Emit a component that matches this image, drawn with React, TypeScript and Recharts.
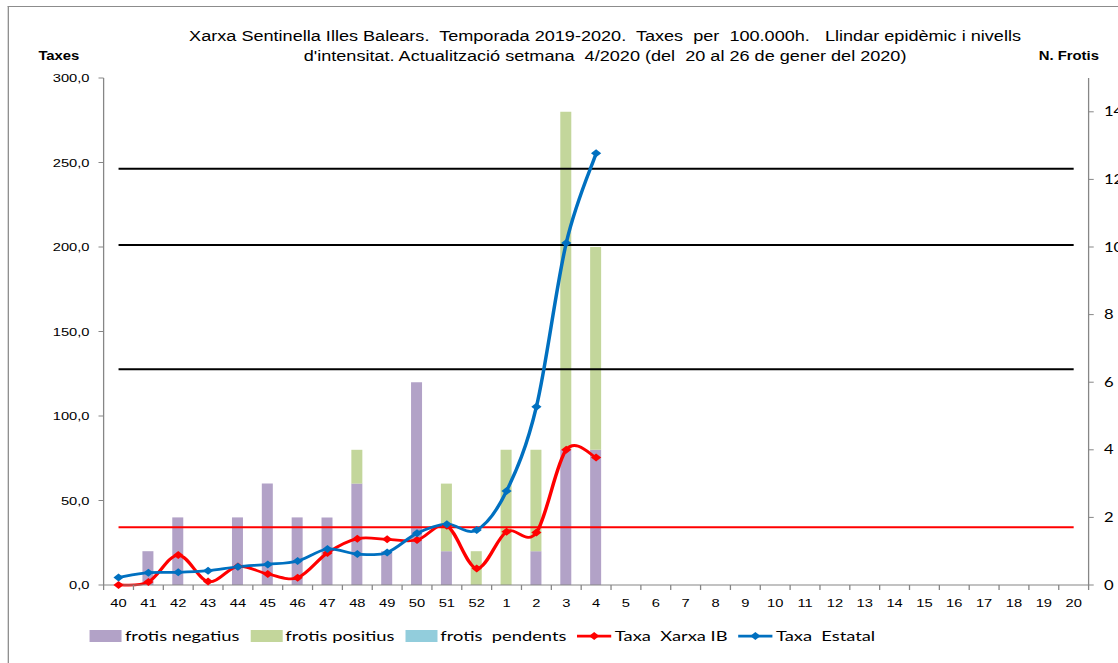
import React from "react";
import {
  Bar,
  ComposedChart,
  Legend,
  Line,
  ReferenceLine,
  XAxis,
  YAxis,
} from "recharts";

// setmanes epidemiològiques de la temporada
const WEEKS = [
  "40", "41", "42", "43", "44", "45", "46", "47", "48", "49", "50", "51", "52",
  "1", "2", "3", "4", "5", "6", "7", "8", "9", "10", "11", "12", "13", "14",
  "15", "16", "17", "18", "19", "20",
];

// nombre de frotis (eix dret), fins a la setmana 4
const FROTIS_NEGATIUS = [0, 1, 2, 0, 2, 3, 2, 2, 3, 1, 6, 1, 0, 0, 1, 4, 4];
const FROTIS_POSITIUS = [0, 0, 0, 0, 0, 0, 0, 0, 1, 0, 0, 2, 1, 4, 3, 10, 6];
const FROTIS_PENDENTS = [0, 0, 0, 0, 0, 0, 0, 0, 0, 0, 0, 0, 0, 0, 0, 0, 0];

// taxes per 100.000 h (eix esquerre)
const TAXA_XARXA_IB = [0, 1.8, 17.7, 2, 11, 6.5, 4.3, 19, 27.4, 27, 26.6, 35, 9.8, 31.5, 31, 80, 75.5];
const TAXA_ESTATAL = [4.5, 7.3, 7.5, 8.5, 10.8, 12.2, 14.2, 21.3, 18.3, 19.3, 30.6, 36, 32.5, 55.6, 105.5, 202.4, 255.4];

// llindar epidèmic i nivells d'intensitat
const LLINDAR = 34.1;
const NIVELLS = [127.6, 201.2, 246.3];

const TAXES_TICKS = [0, 50, 100, 150, 200, 250, 300];
const FROTIS_TICKS = [0, 2, 4, 6, 8, 10, 12, 14];

const LEGEND_ORDER = ["frotis negatius", "frotis positius", "frotis  pendents", "Taxa  Xarxa IB", "Taxa  Estatal"];

const rows = WEEKS.map((week, i) => ({
  week,
  negatius: FROTIS_NEGATIUS[i] ?? null,
  positius: FROTIS_POSITIUS[i] ?? null,
  pendents: FROTIS_PENDENTS[i] ?? null,
  xarxa: TAXA_XARXA_IB[i] ?? null,
  estatal: TAXA_ESTATAL[i] ?? null,
}));

// the original picture is stretched horizontally, so draw narrow and scale
const STRETCH = 1.2792;
const W = 874;
const H = 663;
const Y_LEFT_W = 81;
const Y_RIGHT_W = 23;
const BAND = (W - Y_LEFT_W - Y_RIGHT_W) / WEEKS.length;
const AXIS = "#868686";
const ARIAL = '"Liberation Sans", Arial, sans-serif';

// Excel-like smoothed line (Catmull-Rom through every point)
function smoothCurve(context: any) {
  let pts: [number, number][] = [];
  return {
    areaStart() {},
    areaEnd() {},
    lineStart() {
      pts = [];
    },
    lineEnd() {
      if (!pts.length) return;
      context.moveTo(pts[0][0], pts[0][1]);
      for (let i = 0; i < pts.length - 1; i++) {
        const p0 = pts[Math.max(i - 1, 0)];
        const p1 = pts[i];
        const p2 = pts[i + 1];
        const p3 = pts[Math.min(i + 2, pts.length - 1)];
        context.bezierCurveTo(
          p1[0] + (p2[0] - p0[0]) / 6,
          p1[1] + (p2[1] - p0[1]) / 6,
          p2[0] - (p3[0] - p1[0]) / 6,
          p2[1] - (p3[1] - p1[1]) / 6,
          p2[0],
          p2[1]
        );
      }
    },
    point(x: number, y: number) {
      pts.push([+x, +y]);
    },
  };
}

function diamond(props: any, color: string) {
  const { cx, cy, index } = props;
  if (cx == null || cy == null || props.value == null) return <g key={index} />;
  const r = 4;
  return (
    <path
      key={index}
      d={`M${cx},${cy - r}L${cx + r},${cy}L${cx},${cy + r}L${cx - r},${cy}Z`}
      fill={color}
    />
  );
}

function WeekTick(props: any) {
  const { x, y, payload, index } = props;
  const last = index === WEEKS.length - 1;
  return (
    <g>
      <line x1={x - BAND / 2} x2={x - BAND / 2} y1={y - 5} y2={y} stroke={AXIS} />
      {last && <line x1={x + BAND / 2} x2={x + BAND / 2} y1={y - 5} y2={y} stroke={AXIS} />}
      <text x={x} y={y + 17} textAnchor="middle" fontSize={11.5} fontFamily={ARIAL} fill="#000">
        {payload.value}
      </text>
    </g>
  );
}

function LegendContent(props: any) {
  const payload = [...(props.payload || [])].sort(
    (a: any, b: any) => LEGEND_ORDER.indexOf(a.value) - LEGEND_ORDER.indexOf(b.value)
  );
  return (
    <div style={{ display: "flex", alignItems: "center", fontFamily: '"Lato", sans-serif', fontSize: 14.3, lineHeight: "16px", whiteSpace: "pre", color: "#000" }}>
      {payload.map((entry: any) => (
        <div key={entry.value} style={{ display: "flex", alignItems: "center", marginRight: 8.6 }}>
          {entry.type === "line" ? (
            <svg width={27} height={12}>
              <line x1={0} x2={27} y1={6} y2={6} stroke={entry.color} strokeWidth={2.75} />
              <path d="M13.5,2L17.5,6L13.5,10L9.5,6Z" fill={entry.color} />
            </svg>
          ) : (
            <span style={{ display: "inline-block", width: 25, height: 12, background: entry.color }} />
          )}
          <span style={{ marginLeft: 2.3 }}>{entry.value}</span>
        </div>
      ))}
    </div>
  );
}

const axisTitle: React.CSSProperties = {
  position: "absolute",
  top: 48,
  fontFamily: ARIAL,
  fontWeight: 700,
  fontSize: 13.5,
  lineHeight: "16px",
  whiteSpace: "pre",
  transform: "scaleX(0.86)",
  transformOrigin: "0 0",
};

export default function App() {
  return (
    <div style={{ position: "absolute", left: 0, top: 0, width: 1118, height: H, overflow: "hidden", background: "#fff" }}>
      <div style={{ position: "absolute", left: 0, top: 0, width: W, height: H, transform: `scaleX(${STRETCH})`, transformOrigin: "0 0" }}>
        <div style={{ position: "absolute", left: 6.25, top: 6, width: 2000, height: 2000, borderTop: "1px solid #8c8c8c", borderLeft: "1px solid #8c8c8c" }} />
        <div style={{ position: "absolute", left: 0, top: 26, width: 946, textAlign: "center", fontFamily: ARIAL, fontSize: 14.15, lineHeight: "20px", whiteSpace: "pre", color: "#000" }}>
          <div>{"Xarxa Sentinella Illes Balears.  Temporada 2019-2020.  Taxes  per  100.000h.   Llindar epidèmic i nivells"}</div>
          <div>{"d'intensitat. Actualització setmana  4/2020 (del  20 al 26 de gener del 2020)"}</div>
        </div>
        <div style={{ ...axisTitle, left: 29.7 }}>Taxes</div>
        <div style={{ ...axisTitle, left: 812 }}>N. Frotis</div>
        <ComposedChart width={W} height={H} data={rows} margin={{ top: 78, right: 0, bottom: 48, left: 0 }}>
          <XAxis
            dataKey="week"
            interval={0}
            height={30}
            tickLine={false}
            tickSize={5}
            tickMargin={0}
            tick={<WeekTick />}
            axisLine={{ stroke: AXIS }}
          />
          <YAxis
            yAxisId="left"
            orientation="left"
            width={Y_LEFT_W}
            domain={[0, 300]}
            ticks={TAXES_TICKS}
            interval={0}
            tickFormatter={(v: number) => v.toFixed(1).replace(".", ",")}
            tick={{ fontSize: 11.5, fontFamily: ARIAL, fill: "#000" }}
            tickSize={4}
            tickMargin={7}
            axisLine={{ stroke: AXIS }}
            tickLine={{ stroke: AXIS }}
          />
          <YAxis
            yAxisId="right"
            orientation="right"
            width={Y_RIGHT_W}
            domain={[0, 15]}
            ticks={FROTIS_TICKS}
            interval={0}
            tick={{ fontSize: 13, fontFamily: '"Lato", sans-serif', fill: "#000", textAnchor: "start" }}
            tickSize={4}
            tickMargin={8}
            axisLine={{ stroke: AXIS }}
            tickLine={{ stroke: AXIS }}
          />
          <Legend
            layout="horizontal"
            verticalAlign="middle"
            align="center"
            wrapperStyle={{ top: 628, left: 70.4, width: "auto", height: 16 }}
            content={<LegendContent />}
          />
          <Bar yAxisId="right" dataKey="negatius" name="frotis negatius" stackId="f" fill="#B2A2C7" barSize={8.6} isAnimationActive={false} />
          <Bar yAxisId="right" dataKey="positius" name="frotis positius" stackId="f" fill="#C3D69B" barSize={8.6} isAnimationActive={false} />
          <Bar yAxisId="right" dataKey="pendents" name="frotis  pendents" stackId="f" fill="#92CDDC" barSize={8.6} isAnimationActive={false} />
          {NIVELLS.map((v) => (
            <ReferenceLine
              key={v}
              yAxisId="left"
              segment={[{ x: WEEKS[0], y: v }, { x: WEEKS[WEEKS.length - 1], y: v }]}
              stroke="#000"
              strokeWidth={2}
            />
          ))}
          <ReferenceLine
            yAxisId="left"
            segment={[{ x: WEEKS[0], y: LLINDAR }, { x: WEEKS[WEEKS.length - 1], y: LLINDAR }]}
            stroke="#FF0000"
            strokeWidth={2}
          />
          <Line
            yAxisId="left"
            dataKey="xarxa"
            name="Taxa  Xarxa IB"
            type={smoothCurve as any}
            stroke="#FF0000"
            strokeWidth={2.75}
            dot={(p: any) => diamond(p, "#FF0000")}
            activeDot={false}
            isAnimationActive={false}
          />
          <Line
            yAxisId="left"
            dataKey="estatal"
            name="Taxa  Estatal"
            type={smoothCurve as any}
            stroke="#0070C0"
            strokeWidth={2.75}
            dot={(p: any) => diamond(p, "#0070C0")}
            activeDot={false}
            isAnimationActive={false}
          />
        </ComposedChart>
      </div>
    </div>
  );
}
